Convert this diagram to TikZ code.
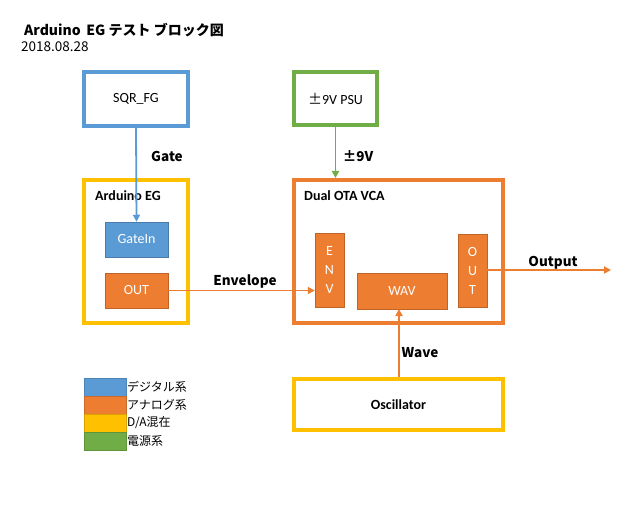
\documentclass[tikz,border=0pt]{standalone}
\usepackage{fontspec}
\setmainfont{Carlito}
\newfontfamily\jpfont{Noto Sans CJK JP}
\usetikzlibrary{arrows.meta}
\definecolor{digblue}{HTML}{5B9BD5}
\definecolor{anaorange}{HTML}{ED7D31}
\definecolor{mixyellow}{HTML}{FFC000}
\definecolor{pwrgreen}{HTML}{70AD47}
\begin{document}
\begin{tikzpicture}[x=1pt,y=-1pt,every node/.style={inner sep=0pt},
    block/.style={draw=#1,line width=4pt,fill=white},
    port/.style={fill=#1,draw=#1!80!black,line width=0.5pt,text=white,font=\fontsize{14}{16}\selectfont},
    sig/.style={draw=#1,line width=1.8pt,-{Triangle[length=7pt,width=7pt]}},
    siglabel/.style={font=\jpfont\bfseries\fontsize{13.5}{15}\selectfont},
    keybox/.style={fill=#1,draw=#1!85!black,line width=0.5pt,minimum width=42pt,minimum height=18pt}]
    \useasboundingbox (0,0) rectangle (631,505);
    \node[anchor=west,font=\jpfont\bfseries\fontsize{14}{16}\selectfont] (title) at (24,30) {Arduino\, EG テスト ブロック図};
    \node[anchor=west,font=\jpfont\fontsize{13.5}{15}\selectfont] (date) at (21,47) {2018.08.28};
    \node[block=digblue,minimum width=104pt,minimum height=54pt,font=\fontsize{14}{16}\selectfont] (sqr) at (136,99) {SQR\_FG};
    \node[block=mixyellow,minimum width=104pt,minimum height=143pt] (ard) at (136,251.5) {};
    \node[anchor=west,font=\bfseries\fontsize{14}{16}\selectfont] (ardlbl) at (95,196) {Arduino EG};
    \node[port=digblue,minimum width=63pt,minimum height=35pt] (gatein) at (136.5,239.5) {GateIn};
    \node[port=anaorange,minimum width=63pt,minimum height=35pt] (aout) at (136.5,290.5) {OUT};
    \node[block=pwrgreen,minimum width=83pt,minimum height=53pt,font=\fontsize{14}{16}\selectfont] (psu) at (335.5,98.5) {{\jpfont ±}9V PSU};
    \node[block=anaorange,minimum width=209pt,minimum height=143pt] (vca) at (398.5,251.5) {};
    \node[anchor=west,font=\bfseries\fontsize{14}{16}\selectfont] (vcalbl) at (304,196) {Dual OTA VCA};
    \node[port=anaorange,minimum width=29pt,minimum height=74pt,align=center,font=\fontsize{14}{19}\selectfont] (env) at (329.5,270) {E\\N\\V};
    \node[port=anaorange,minimum width=90pt,minimum height=36pt] (wav) at (402,291) {WAV};
    \node[port=anaorange,minimum width=29pt,minimum height=73pt,align=center,font=\fontsize{14}{19}\selectfont] (vout) at (472.5,270.5) {O\\U\\T};
    \node[block=mixyellow,minimum width=209pt,minimum height=51pt,font=\bfseries\fontsize{14}{16}\selectfont] (osc) at (398.5,404.5) {Oscillator};
    \coordinate (outp) at (611,270);
    \draw[sig=digblue] (sqr.south) -- (gatein.north);
    \draw[sig=pwrgreen] (psu.south) -- (psu.south |- vca.north);
    \draw[sig=anaorange] (aout.east) -- (aout.east -| env.west);
    \draw[sig=anaorange] (399,377) -- (399,309);
    \draw[sig=anaorange] (vout.east |- outp) -- (outp);
    \node[siglabel] (gatelbl) at (167,156) {Gate};
    \node[siglabel] (pwrlbl) at (358,156) {±9V};
    \node[siglabel] (envlbl) at (245,282) {Envelope};
    \node[siglabel] (outlbl) at (553,263) {Output};
    \node[siglabel] (wavelbl) at (420,353) {Wave};
    \node[keybox=digblue] (k1) at (105,387) {};
    \node[keybox=anaorange] (k2) at (105,405) {};
    \node[keybox=mixyellow] (k3) at (105,423) {};
    \node[keybox=pwrgreen] (k4) at (105,441) {};
    \node[anchor=west,font=\jpfont\fontsize{12}{14}\selectfont] (t1) at (127,387) {デジタル系};
    \node[anchor=west,font=\jpfont\fontsize{12}{14}\selectfont] (t2) at (127,405) {アナログ系};
    \node[anchor=west,font=\jpfont\fontsize{12}{14}\selectfont] (t3) at (127,423) {D/A混在};
    \node[anchor=west,font=\jpfont\fontsize{12}{14}\selectfont] (t4) at (127,441) {電源系};
\end{tikzpicture}
\end{document}
